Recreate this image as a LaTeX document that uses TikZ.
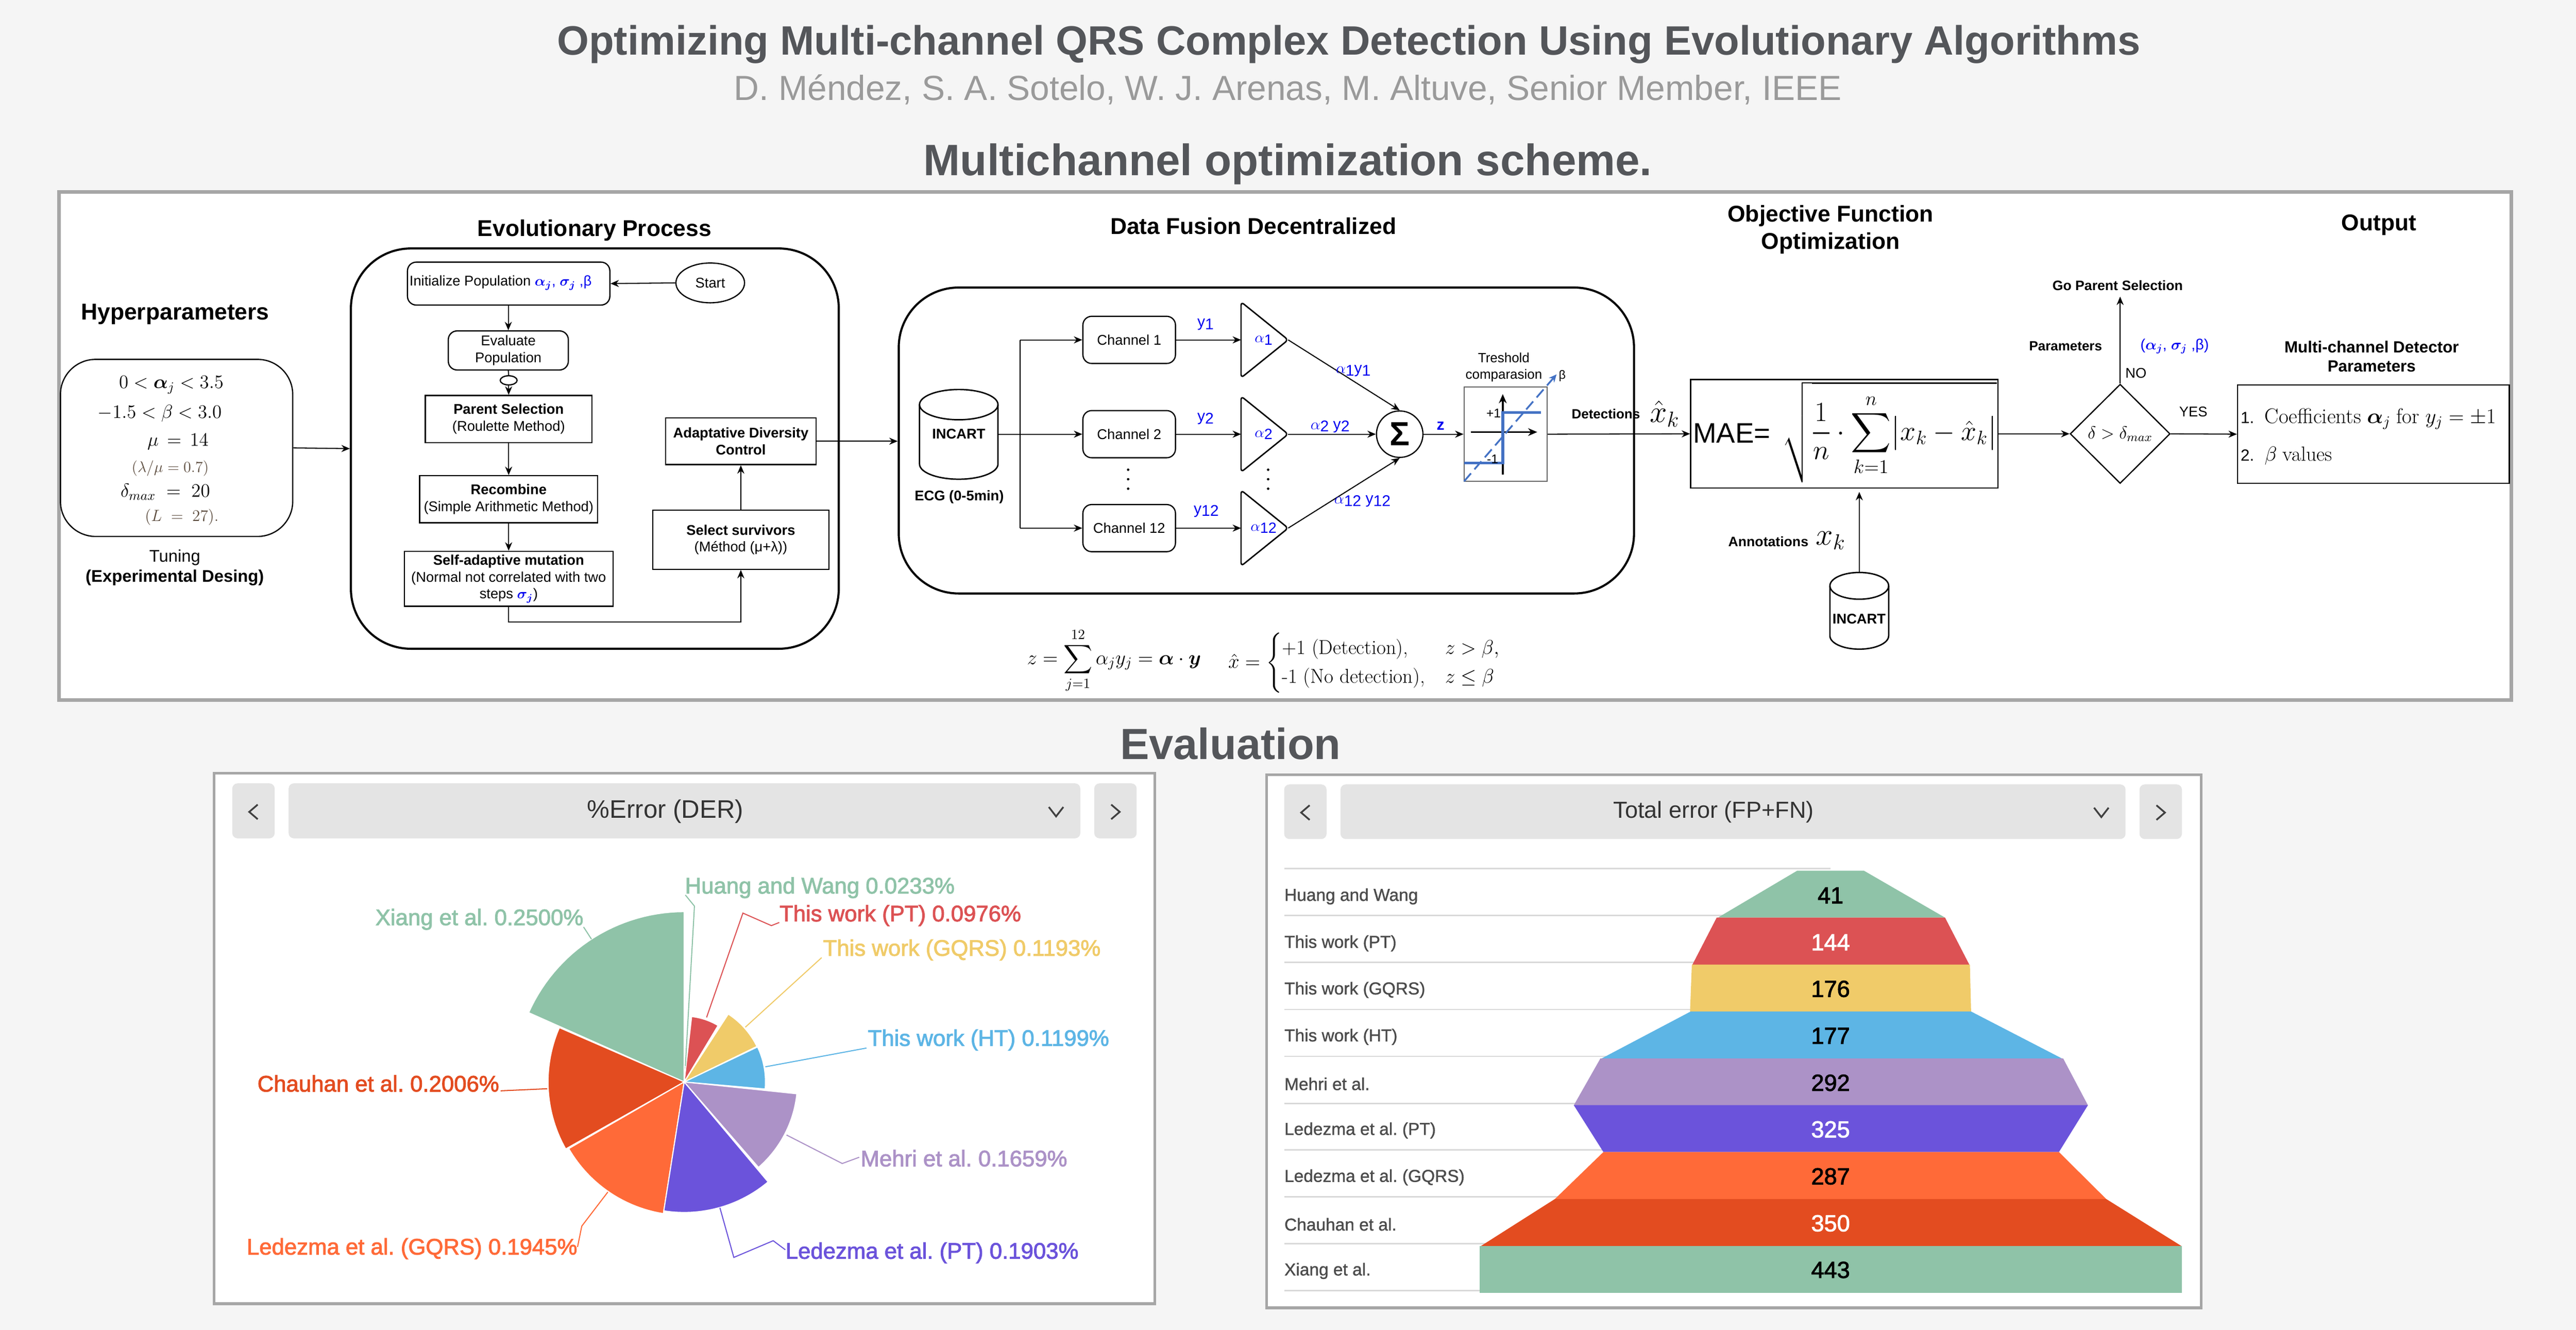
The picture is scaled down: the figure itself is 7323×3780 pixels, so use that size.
\RequirePackage{fix-cm}
\documentclass[tikz,border=0pt]{standalone}
\usepackage{amsmath,amssymb}
\usepackage{bm}
\usepackage[no-math]{fontspec}
\setsansfont{Liberation Sans}
\newfontfamily\rob[FakeBold=2.2]{Liberation Sans}
\newfontfamily\robm[FakeBold=1.2]{Liberation Sans}
\newfontfamily\robl{Liberation Sans}
\usetikzlibrary{arrows.meta,shapes.geometric}
\newcommand\fs[1]{\fontsize{\fpeval{#1*0.2845}pt}{\fpeval{#1*0.2845*1.2}pt}\selectfont}
\definecolor{bluet}{HTML}{0000F0}
\definecolor{titlec}{HTML}{54565A}
\definecolor{subc}{HTML}{9A9A9A}
\definecolor{framec}{HTML}{A6A6A6}
\definecolor{btnc}{HTML}{E4E4E4}
\definecolor{cgreen}{HTML}{8FC3A8}
\definecolor{cred}{HTML}{DC5254}
\definecolor{cyell}{HTML}{F0CB69}
\definecolor{cblue}{HTML}{5DB5E5}
\definecolor{cpurp}{HTML}{AC92C7}
\definecolor{cviol}{HTML}{6B53DB}
\definecolor{corng}{HTML}{FF6A38}
\definecolor{cdorg}{HTML}{E34C20}
\definecolor{stepc}{HTML}{4472C4}
\definecolor{brownc}{HTML}{5A4A3C}
\newcommand\low[1]{\raisebox{-0.3ex}{#1}}
\newcommand\ay[3]{\textcolor{bluet}{$\alpha$\low{#1}#2y\low{#3}}}
\newcommand\al[1]{\textcolor{bluet}{$\alpha$\low{#1}}}
\newcommand\yy[1]{\textcolor{bluet}{y\low{#1}}}
\newcommand\slice[4]{\fill[#1,draw=white,line width=.03cm] (1945,3075) -- plot[domain=#2:#3,samples=30] ({1945+#4*cos(\x-90)},{3075+#4*sin(\x-90)}) -- cycle;}
% cylinder: centre x, half width, top y, bottom y, end radius
\newcommand\dbcyl[5]{%
 \draw[draw=black,line width=.04cm,fill=white] ({#1-#2},{#3+#5}) -- ({#1-#2},{#4-#5}) -- plot[domain=180:0,samples=40] ({#1+#2*cos(\x)},{#4-#5+#5*sin(\x)}) -- ({#1+#2},{#3+#5}) -- plot[domain=0:-180,samples=40] ({#1+#2*cos(\x)},{#3+#5+#5*sin(\x)}) -- cycle;
 \draw[draw=black,line width=.04cm] plot[domain=180:0,samples=40] ({#1+#2*cos(\x)},{#3+#5+#5*sin(\x)});}
\tikzset{
 every node/.style={font=\sffamily\fs{40},align=center,inner sep=0pt,text=black},
 thinbox/.style={draw=black,line width=.035cm,fill=white},
 roundbox/.style={thinbox,rounded corners=.25cm},
 bigbox/.style={draw=black,line width=.06cm,fill=white,rounded corners=1.7cm},
 hd/.style={font=\sffamily\bfseries\fs{65}},
 conn/.style={draw=black,line width=.03cm,-{Stealth[length=.24cm,width=.2cm]}},
 plainconn/.style={draw=black,line width=.03cm},
 mainhd/.style={font=\sffamily\bfseries\fs{#1},text=titlec},
 btn/.style={fill=btnc,rounded corners=.15cm},
 chev/.style={draw=black!75,line width=.05cm,line join=miter},
 pielbl/.style={font=\rob\fs{64}\frenchspacing},
 leader/.style={line width=.03cm},
 rowline/.style={draw=black!15,line width=.04cm},
 rowlbl/.style={font=\robm\fs{49}\frenchspacing,text=black!70,anchor=west},
 rowval/.style={font=\rob\fs{66}},
}
\begin{document}
\begin{tikzpicture}[x=0.01cm,y=-0.01cm]
\fill[white!96!black] (0,0) rectangle (7323,3780);
\useasboundingbox (0,0) rectangle (7323,3780);
% titles
\node[mainhd=116.5] (t1) at (3834,126) {Optimizing Multi-channel QRS Complex Detection Using Evolutionary Algorithms};
\node[font=\sffamily\fs{99},text=subc] (t2) at (3661,254) {D. Méndez, S. A. Sotelo, W. J. Arenas, M. Altuve, Senior Member, IEEE};
\node[mainhd=125] (t3) at (3661,467) {Multichannel optimization scheme.};
\node[mainhd=124] (t4) at (3498,2113) {Evaluation};
% main frame
\draw[draw=framec,fill=white,line width=.1cm] (168,546) rectangle (7139,1990);
% Hyperparameters
\node[hd] (hh) at (498,893) {Hyperparameters};
\node[thinbox,rounded corners=1cm,minimum width=6.6cm,minimum height=5.03cm] (hyper) at (502,1273) {};
\node (h1) at (487,1094) {\fs{54}$0<\boldsymbol{\alpha}_j<3.5$};
\node (h2) at (454,1175) {\fs{54}$-1.5<\beta<3.0$};
\node (h3) at (506,1255) {\fs{54}$\mu\,=\,14$};
\node (h4) at (484,1331) {\fs{44}\textcolor{brownc}{$(\lambda/\mu=0.7)$}};
\node (h5) at (470,1398) {\fs{54}$\delta_{max}\;=\;20$};
\node (h6) at (517,1470) {\fs{46}\textcolor{brownc}{$(L\;=\;27).$}};
\node[font=\sffamily\fs{48}] (tun) at (497,1613) {Tuning\\\textbf{(Experimental Desing)}};
% Evolutionary
\node[hd] (he) at (1690,654) {Evolutionary Process};
\node[bigbox,minimum width=13.86cm,minimum height=11.37cm] (evol) at (1691,1275) {};
\node[roundbox,minimum width=5.75cm,minimum height=1.22cm] (init) at (1446,806) {};
\node (initt) at (1423,804) {Initialize Population \textcolor{bluet}{$\boldsymbol{\alpha_j}$, $\boldsymbol{\sigma_j}$ ,β}};
\node[ellipse,thinbox,minimum width=1.95cm,minimum height=1.13cm] (start) at (2019,804) {Start};
\node[roundbox,minimum width=3.41cm,minimum height=1.11cm] (eval) at (1445,996) {Evaluate\\Population};
\node[ellipse,thinbox,minimum width=.48cm,minimum height=.26cm] (dot) at (1446,1081) {};
\node[thinbox,minimum width=4.74cm,minimum height=1.34cm] (parent) at (1446,1191) {\textbf{Parent Selection}\\(Roulette Method)};
\node[thinbox,minimum width=5.06cm,minimum height=1.34cm] (recomb) at (1446,1419) {\textbf{Recombine}\\(Simple Arithmetic Method)};
\node[thinbox,minimum width=5.93cm,minimum height=1.56cm] (selfm) at (1446,1645) {\textbf{Self-adaptive mutation}\\(Normal not correlated with two\\steps \textcolor{bluet}{$\boldsymbol{\sigma_j}$})};
\node[thinbox,minimum width=5cm,minimum height=1.68cm] (surv) at (2106,1534) {\textbf{Select survivors}\\(Méthod (μ+λ))};
\node[thinbox,minimum width=4.27cm,minimum height=1.33cm] (adapt) at (2106,1254) {\textbf{Adaptative Diversity}\\\textbf{Control}};
\draw[conn] (hyper.east) -- (evol.west);
\draw[conn] (start.west) -- (init.east);
\draw[conn] (init.south -| eval.north) -- (eval.north);
\draw[plainconn] (eval.south) -- (dot.north);
\draw[conn] (dot.south) -- (parent.north);
\draw[conn] (parent.south) -- (recomb.north);
\draw[conn] (recomb.south) -- (selfm.north);
\coordinate (elb) at (2106,1768);
\draw[conn] (selfm.south) |- (elb) -- (surv.south);
\draw[conn] (surv.north) -- (adapt.south);
% Data fusion
\node[hd] (hd2) at (3563,642) {Data Fusion Decentralized};
\node[bigbox,minimum width=20.89cm,minimum height=8.69cm] (data) at (3600,1252) {};
\draw[conn] (adapt.east) -- (adapt.east -| data.west);
\dbcyl{2725.5}{111.5}{1107}{1362}{43}
\node[font=\sffamily\bfseries\fs{40},minimum width=2.23cm,minimum height=2.55cm] (inc1) at (2725.5,1234) {INCART};
\node[font=\sffamily\bfseries\fs{40}] (ecg) at (2727,1412) {ECG (0-5min)};
\node[roundbox,minimum width=2.63cm,minimum height=1.34cm] (ch1) at (3210,966) {Channel 1};
\node[roundbox,minimum width=2.63cm,minimum height=1.34cm] (ch2) at (3210,1234) {Channel 2};
\node[roundbox,minimum width=2.63cm,minimum height=1.34cm] (ch3) at (3210,1501) {Channel 12};
\coordinate (b1) at (2900,966);
\coordinate (b3) at (2900,1501);
\coordinate (b2) at (2900,1234);
\draw[conn] (inc1.east) -- (ch2.west);
\draw[plainconn] (b2) -- (b1);
\draw[plainconn] (b2) -- (b3);
\draw[conn] (b1) -- (ch1.west);
\draw[conn] (b3) -- (ch3.west);
% triangles
\foreach \n/\c/\l in {1/966/1,2/1234/2,3/1501/12}{
 \draw[draw=black,line width=.04cm,fill=white,rounded corners=.1cm] (3528,\c-108) -- (3662,\c) -- (3528,\c+108) -- cycle;
 \coordinate (tl\n) at (3528,\c);
 \coordinate (ta\n) at (3662,\c);
 \node[font=\sffamily\fs{42}] (al\n) at (3592,\c) {\al{\l}};
}
\draw[conn] (ch1.east) -- (tl1);
\draw[conn] (ch2.east) -- (tl2);
\draw[conn] (ch3.east) -- (tl3);
\node[font=\sffamily\fs{44}] (y1) at (3427,922) {\yy{1}};
\node[font=\sffamily\fs{44}] (y2) at (3427,1190) {\yy{2}};
\node[font=\sffamily\fs{44}] (y3) at (3429,1453) {\yy{12}};
\foreach \x in {3207,3605}\foreach \y in {1335,1362,1389} \fill (\x,\y) circle [radius=3.5];
\node[circle,thinbox,minimum size=1.32cm] (sum) at (3979,1234) {\sffamily\bfseries\fs{95}Σ};
\draw[conn] (ta1) -- (sum.north);
\draw[conn] (ta2) -- (sum.west);
\draw[conn] (ta3) -- (sum.south);
\node[font=\sffamily\fs{44}] (a1) at (3847,1054) {\ay{1}{}{1}};
\node[font=\sffamily\fs{44}] (a2) at (3781,1213) {\ay{2}{ }{2}};
\node[font=\sffamily\fs{44}] (a3) at (3873,1424) {\ay{12}{ }{12}};
\node[font=\sffamily\bfseries\fs{44},text=bluet] (zl) at (4095,1211) {z};
\node[draw=black!60,line width=.03cm,fill=white,minimum width=2.36cm,minimum height=2.69cm] (thr) at (4280,1234) {};
\node[font=\sffamily\fs{38}] (thl) at (4275,1044) {Treshold\\comparasion};
\coordinate (ax1) at (4272,1349);\coordinate (ax2) at (4272,1120);
\coordinate (ax3) at (4181,1228);\coordinate (ax4) at (4370,1228);
\draw[line width=.05cm,-{Stealth[length=.26cm,width=.22cm]}] (ax1) -- (ax2);
\draw[line width=.05cm,-{Stealth[length=.26cm,width=.22cm]}] (ax3) -- (ax4);
\draw[stepc,line width=.08cm] (4162,1316) -- (4272,1316) -- (4272,1172) -- (4380,1172);
\draw[stepc,line width=.05cm,dash pattern=on .3cm off .15cm,-{Stealth[length=.22cm,width=.2cm]}] (4162,1368) -- (4425,1064);
\node[font=\sffamily\fs{34}] (bl) at (4441,1069) {β};
\node[font=\sffamily\fs{36}] (p1) at (4246,1174) {+1};
\node[font=\sffamily\fs{36}] (m1) at (4243,1305) {-1};
\draw[conn] (sum.east) -- (thr.west);
\node[font=\sffamily\bfseries\fs{38}] (det) at (4565,1177) {Detections};
\node (xh) at (4732,1176) {\fs{88}$\hat{x}_k$};
% MAE
\node[hd] (ho) at (5204,652) {Objective Function\\Optimization};
\node[hd] (hout) at (6763,639) {Output};
\node[thinbox,minimum width=8.73cm,minimum height=3.08cm] (mae) at (5243,1233) {};
\node[font=\sffamily\fs{80}] (maet) at (4923,1231) {MAE=};
\node (maef) at (5372,1228) {\fs{79}$\displaystyle\sqrt{\frac{1}{n}\cdot\sum_{k=1}^{n}\bigl|x_k-\hat{x}_k\bigr|}$};
\draw[conn] (thr.east) -- (mae.west);
\node[diamond,thinbox,minimum width=2.84cm,minimum height=2.82cm] (dia) at (6027,1233) {};
\node (diat) at (6027,1233) {\fs{50}$\delta>\delta_{max}$};
\draw[conn] (mae.east) -- (dia.west);
\node[thinbox,minimum width=7.72cm,minimum height=2.79cm] (outb) at (6747,1234) {};
\draw[conn] (dia.east) -- (outb.west);
\node[anchor=west,font=\sffamily\fs{46}] (o1) at (6369,1190) {1. \ \fs{60}\textrm{Coefficients} $\boldsymbol{\alpha}_j$ \textrm{for} $y_j=\pm 1$};
\node[anchor=west,font=\sffamily\fs{46}] (o2) at (6369,1295) {2. \ \fs{58}$\beta$ \textrm{values}};
\node[font=\sffamily\bfseries\fs{46}] (ot) at (6742,1013) {Multi-channel Detector\\Parameters};
\node[font=\sffamily\bfseries\fs{39}] (go) at (6020,812) {Go Parent Selection};
\coordinate (goa) at (6027,843);
\draw[conn] (dia.north) -- (goa);
\node[font=\sffamily\bfseries\fs{38}] (par) at (5872,984) {Parameters};
\node[font=\sffamily\fs{42},text=bluet] (pars) at (6182,984) {($\boldsymbol{\alpha_j}$, $\boldsymbol{\sigma_j}$ ,β)};
\node (no) at (6072,1061) {NO};
\node (yes) at (6235,1171) {YES};
\node[font=\sffamily\bfseries\fs{39}] (ann) at (5027,1539) {Annotations};
\node (xk) at (5204,1537) {\fs{88}$x_k$};
\dbcyl{5285.5}{83.5}{1627}{1845}{38}
\node[minimum width=1.67cm,minimum height=2.18cm] (inc2) at (5285.5,1736) {};
\node[font=\sffamily\bfseries\fs{40}] (inc2t) at (5285,1759) {INCART};
\coordinate (maein) at (5285.5,1398);
\draw[conn] (inc2.north) -- (maein);
% equations
\node (eq1) at (3167,1877) {\fs{57}$\displaystyle z=\sum_{j=1}^{12}\alpha_j y_j=\boldsymbol{\alpha}\cdot\boldsymbol{y}$};
\node (eq2) at (3879,1884) {\fs{57}$\hat{x}=\begin{cases}\textrm{+1 (Detection),} & z>\beta,\\ \textrm{-1 (No detection),} & z\leq\beta\end{cases}$};
% left panel
\begin{scope}[shift={(600,2180)},xscale=1.722,yscale=0.9885]
\draw[draw=framec,fill=white,line width=.08cm] (5,18) rectangle (1558,1543);
\fill[btn] (35,47) rectangle (105,205);
\fill[btn] (128,47) rectangle (1435,205);
\fill[btn] (1458,47) rectangle (1528,205);
\draw[chev] (77,108) -- (63,129) -- (77,150);
\draw[chev] (1486,108) -- (1500,129) -- (1486,150);
\draw[chev] (1383,115) -- (1395,142) -- (1407,115);
\node[font=\robl\fs{72},text=black!80] (ttl) at (750,128) {\%Error (DER)};
\end{scope}
\slice{cgreen}{-66}{0}{484}
\slice{cdorg}{-119.5}{-66.5}{387}
\slice{corng}{-171}{-120}{379}
\slice{cviol}{140}{189}{371}
\slice{cpurp}{96}{139}{322}
\slice{cblue}{64.5}{95}{231}
\slice{cyell}{33}{64}{230}
\slice{cred}{6.5}{31}{187}
\slice{cgreen}{0}{6}{45}
\begin{scope}[shift={(600,2180)},xscale=1.722,yscale=0.9885]
\node[pielbl,text=cgreen,anchor=west] (l1) at (782,347) {Huang and Wang 0.0233\%};
\node[pielbl,text=cred,anchor=west] (l2) at (938,427) {This work (PT) 0.0976\%};
\node[pielbl,text=cyell,anchor=west] (l3) at (1010,526) {This work (GQRS) 0.1193\%};
\node[pielbl,text=cblue,anchor=west] (l4) at (1084,785) {This work (HT) 0.1199\%};
\node[pielbl,text=cpurp,anchor=west] (l5) at (1072,1125) {Mehri et al. 0.1659\%};
\node[pielbl,text=cviol,anchor=west] (l6) at (948,1397) {Ledezma et al. (PT) 0.1903\%};
\node[pielbl,text=corng,anchor=east] (l7) at (605,1385) {Ledezma et al. (GQRS) 0.1945\%};
\node[pielbl,text=cdorg,anchor=east] (l8) at (476,910) {Chauhan et al. 0.2006\%};
\node[pielbl,text=cgreen,anchor=east] (l9) at (615,438) {Xiang et al. 0.2500\%};
\draw[leader,cgreen] (783,860) -- (798,400) -- (783,368);
\draw[leader,cred] (818,720) -- (878,420) -- (925,456) -- (938,447);
\draw[leader,cyell] (882,748) -- (1008,548);
\draw[leader,cblue] (915,862) -- (1082,808);
\draw[leader,cpurp] (950,1058) -- (1042,1140) -- (1070,1122);
\draw[leader,cviol] (840,1267) -- (863,1410) -- (928,1362) -- (948,1388);
\draw[leader,corng] (655,1222) -- (612,1320) -- (605,1380);
\draw[leader,cdorg] (555,925) -- (478,931);
\draw[leader,cgreen] (628,495) -- (615,460);
\end{scope}
% right panel
\begin{scope}[shift={(3580,2180)},xscale=1.722,yscale=0.9885]
\draw[draw=framec,fill=white,line width=.08cm] (12,22) rectangle (1555,1555);
\fill[btn] (41,50) rectangle (111,207);
\fill[btn] (134,50) rectangle (1430,207);
\fill[btn] (1453,50) rectangle (1523,207);
\draw[chev] (83,110) -- (69,131) -- (83,152);
\draw[chev] (1481,110) -- (1495,131) -- (1481,152);
\draw[chev] (1378,117) -- (1390,144) -- (1402,117);
\node[font=\robl\fs{66},text=black!80] (ttr) at (750,130) {Total error (FP+FN)};
\foreach \y in {292,427,562,697,832,967,1101,1236,1371,1505} \draw[rowline] (41,\y) -- (943,\y);
\foreach \y/\c/\a/\b/\d/\e in {298/cgreen/888/998/757/1132,433/cred/755/1132/715/1172,568/cyell/714/1173/711/1175,703/cblue/712/1175/565/1325,838/cpurp/563/1327/519/1368,972/cviol/519/1368/568/1320,1107/corng/568/1320/488/1398,1242/cdorg/488/1398/366/1522,1377/cgreen/364/1523/364/1523}{
 \fill[\c] (\a,\y) -- (\b,\y) -- (\e,\y+135) -- (\d,\y+135) -- cycle;
}
\foreach \y/\t/\v/\c in {372/Huang and Wang/41/black,507/This work (PT)/144/white,641/This work (GQRS)/176/black,776/This work (HT)/177/black,911/Mehri et al./292/black,1045/Ledezma et al. (PT)/325/white,1180/Ledezma et al. (GQRS)/287/black,1315/Chauhan et al./350/white,1449/Xiang et al./443/black}{
 \node[rowlbl] at (41,\y) {\t};
 \node[rowval,text=\c] at (943,\y-3) {\v};
}
\end{scope}
\end{tikzpicture}
\end{document}
